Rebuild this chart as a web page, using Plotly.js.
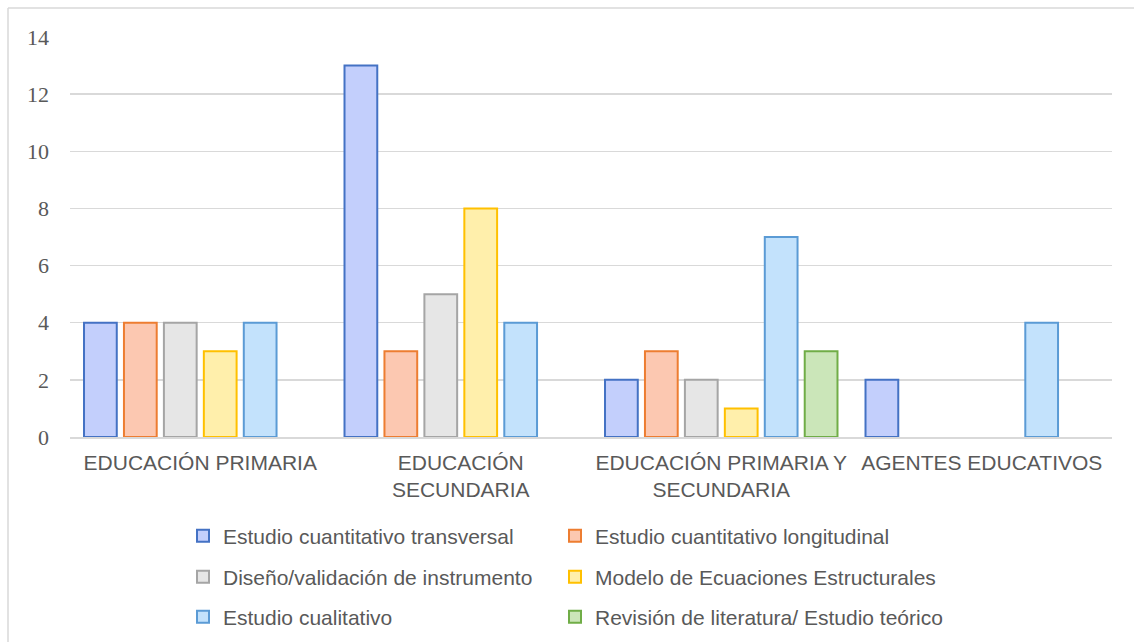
<!DOCTYPE html>
<html>
<head>
<meta charset="utf-8">
<script src="https://cdn.plot.ly/plotly-3.0.1.min.js"></script>
<style>
html,body{margin:0;padding:0;background:#fff;}
#chart{width:1134px;height:642px;}
</style>
</head>
<body>
<div id="chart"></div>
<script>
// Categories (tick labels)
const categories = ["EDUCACIÓN PRIMARIA", "EDUCACIÓN SECUNDARIA", "EDUCACIÓN PRIMARIA Y SECUNDARIA", "AGENTES EDUCATIVOS"];
const categoryLabels = ["EDUCACIÓN PRIMARIA", "EDUCACIÓN<br>SECUNDARIA", "EDUCACIÓN PRIMARIA Y<br>SECUNDARIA", "AGENTES EDUCATIVOS"];

// Series names
const seriesNames = [
  "Estudio cuantitativo transversal",
  "Estudio cuantitativo longitudinal",
  "Diseño/validación de instrumento",
  "Modelo de Ecuaciones Estructurales",
  "Estudio cualitativo",
  "Revisión de literatura/ Estudio teórico"
];

// Series values (null = no bar in the source chart)
const transversal  = [4, 13, 2, 2];
const longitudinal = [4, 3, 3, null];
const diseno       = [4, 5, 2, null];
const modelo       = [3, 8, 1, null];
const cualitativo  = [4, 4, 7, 4];
const revision     = [null, null, 3, null];

const seriesValues = [transversal, longitudinal, diseno, modelo, cualitativo, revision];

const fills = ["#c3cffc", "#fcc8b1", "#e6e6e6", "#ffefab", "#c3e2fc", "#cbe6b9"];
const lines = ["#4472c4", "#ed7d31", "#a5a5a5", "#ffc000", "#5b9bd5", "#70ad47"];
const legendIds = ["legend", "legend2", "legend3", "legend4", "legend5", "legend6"];

const traces = seriesNames.map((name, i) => ({
  type: "bar",
  name: name,
  x: categories,
  y: seriesValues[i],
  legend: legendIds[i],
  marker: { color: fills[i], line: { color: lines[i], width: 2 } },
  hoverinfo: "none"
}));

const L = 70, T = 37, W = 1042, H = 400;
const px2x = p => (p - L) / W;
const py2y = p => (T + H - p) / H;

const legendFont = { family: "Liberation Sans, Arial, sans-serif", size: 21, color: "#595959" };
function legendAt(xl, yc) {
  return {
    orientation: "h",
    x: px2x(xl), xanchor: "left",
    y: py2y(yc), yanchor: "middle",
    font: legendFont,
    bgcolor: "rgba(0,0,0,0)"
  };
}

const layout = {
  width: 1134,
  height: 642,
  margin: { l: L, r: 1134 - L - W, t: T, b: 642 - T - H, autoexpand: false },
  paper_bgcolor: "#ffffff",
  plot_bgcolor: "#ffffff",
  barmode: "group",
  bargap: 0.08,
  bargroupgap: 0.18,
  showlegend: true,
  legend:  legendAt(183, 536),
  legend2: legendAt(555, 536),
  legend3: legendAt(183, 577),
  legend4: legendAt(555, 577),
  legend5: legendAt(183, 617),
  legend6: legendAt(555, 617),
  xaxis: {
    type: "category",
    tickmode: "array",
    tickvals: categories,
    ticktext: categoryLabels,
    tickfont: { family: "Liberation Sans, Arial, sans-serif", size: 21, color: "#595959" },
    showgrid: false,
    showline: true,
    linecolor: "#d9d9d9",
    linewidth: 1.5,
    ticks: "",
    ticklabelstandoff: 6,
    automargin: false,
    fixedrange: true
  },
  yaxis: {
    range: [0, 14],
    dtick: 2,
    tick0: 0,
    showgrid: true,
    gridcolor: "#d9d9d9",
    gridwidth: 1.5,
    zeroline: false,
    showline: false,
    ticks: "",
    ticklabelstandoff: 20,
    automargin: false,
    tickfont: { family: "Liberation Serif, Times New Roman, serif", size: 22, color: "#595959" },
    fixedrange: true
  },
  shapes: [
    { type: "line", xref: "paper", yref: "paper", x0: px2x(8), x1: px2x(1134), y0: py2y(8), y1: py2y(8),
      line: { color: "#d9d9d9", width: 1.5 } },
    { type: "line", xref: "paper", yref: "paper", x0: px2x(8), x1: px2x(8), y0: py2y(8), y1: py2y(642),
      line: { color: "#d9d9d9", width: 1.5 } }
  ]
};

Plotly.newPlot("chart", traces, layout, { staticPlot: true, displayModeBar: false });
</script>
</body>
</html>
